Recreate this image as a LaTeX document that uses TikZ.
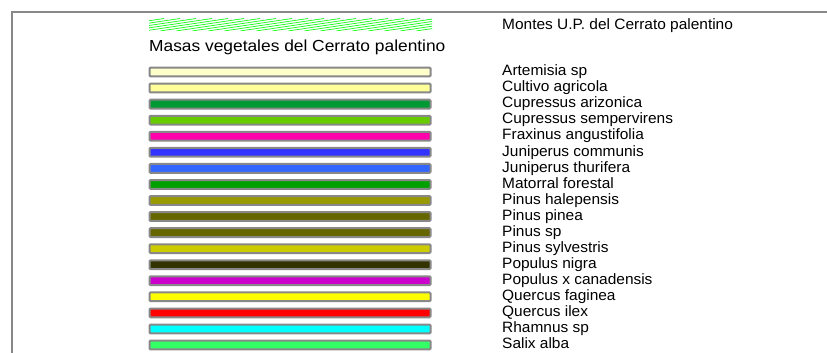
\documentclass[tikz,border=0pt]{standalone}
\usepackage{fontspec}
\setmainfont{Liberation Sans}
\definecolor{framegray}{RGB}{136,136,136}
\definecolor{hatchgreen}{RGB}{30,250,30}
\definecolor{cArtemisia}{RGB}{255,255,204}
\definecolor{cCultivo}{RGB}{255,255,153}
\definecolor{cCupArizonica}{RGB}{0,153,51}
\definecolor{cCupSemper}{RGB}{102,204,0}
\definecolor{cFraxinus}{RGB}{255,0,170}
\definecolor{cJunCommunis}{RGB}{51,51,255}
\definecolor{cJunThurifera}{RGB}{51,102,255}
\definecolor{cMatorral}{RGB}{0,160,0}
\definecolor{cPinHalepensis}{RGB}{153,153,0}
\definecolor{cPinPinea}{RGB}{102,102,0}
\definecolor{cPinSp}{RGB}{102,102,0}
\definecolor{cPinSylvestris}{RGB}{204,204,0}
\definecolor{cPopNigra}{RGB}{51,51,0}
\definecolor{cPopCanadensis}{RGB}{204,0,204}
\definecolor{cQueFaginea}{RGB}{255,255,0}
\definecolor{cQueIlex}{RGB}{255,0,0}
\definecolor{cRhamnus}{RGB}{0,255,255}
\definecolor{cSalix}{RGB}{51,255,102}
\newcommand{\legtext}[1]{\scalebox{1.03}[1]{#1}}

\begin{document}
\begin{tikzpicture}[x=1pt,y=-1pt,
  legbar/.style={draw=framegray, line width=2pt, rounded corners=1pt,
    minimum width=281pt, minimum height=8.8pt, inner sep=0pt},
  leglabel/.style={anchor=base west, inner sep=0pt, font=\fontsize{15}{17}\selectfont}]
\useasboundingbox (0,0) rectangle (827,353);
\draw[line width=2pt, framegray] (12,353) -- (12,12) -- (827,12);
% hatched symbol for the forest units
\begin{scope}
  \clip (149,19) rectangle (432,30.5);
  \foreach \k in {-80,-64,...,440}{
    \draw[hatchgreen, line width=0.75pt] (\k,31) -- ++(84,-12.5);
  }
\end{scope}
\node[leglabel] (montes) at (502,29.5) {\legtext{Montes U.P. del Cerrato palentino}};
\node[leglabel, font=\fontsize{16}{18}\selectfont] (title) at (149,51.3) {\scalebox{1.085}[1]{Masas vegetales del Cerrato palentino}};
\foreach \col/\name [count=\i] in {cArtemisia/Artemisia sp, cCultivo/Cultivo agricola,
    cCupArizonica/Cupressus arizonica, cCupSemper/Cupressus sempervirens,
    cFraxinus/Fraxinus angustifolia, cJunCommunis/Juniperus communis,
    cJunThurifera/Juniperus thurifera, cMatorral/Matorral forestal,
    cPinHalepensis/Pinus halepensis, cPinPinea/Pinus pinea, cPinSp/Pinus sp,
    cPinSylvestris/Pinus sylvestris, cPopNigra/Populus nigra,
    cPopCanadensis/Populus x canadensis, cQueFaginea/Quercus faginea,
    cQueIlex/Quercus ilex, cRhamnus/Rhamnus sp, cSalix/Salix alba}{
  \node[legbar, fill=\col] (bar\i) at (290,{72+16.06*(\i-1)}) {};
  \node[leglabel] (lab\i) at (502,{75.7+16.06*(\i-1)}) {\legtext{\name}};
}
\end{tikzpicture}
\end{document}
